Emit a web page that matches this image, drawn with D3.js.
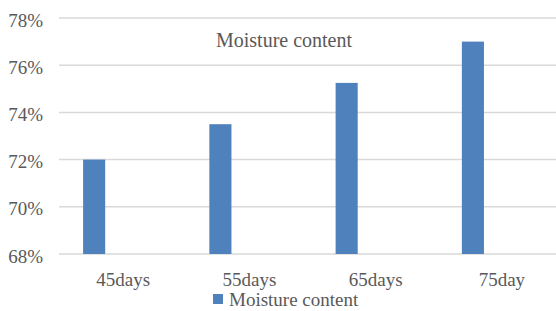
<!DOCTYPE html>
<html>
<head>
<meta charset="utf-8">
<script src="https://d3js.org/d3.v7.min.js"></script>
<style>
    body { margin: 0; background: #fff; }
    svg text { font-family: "Liberation Serif", "Times New Roman", serif; fill: #595959; }
</style>
</head>
<body>
<svg width="556" height="311"></svg>
<script>
    // chart data
    var categories = ["45days", "55days", "65days", "75day"];
    var moisture = [72.0, 73.5, 75.25, 77.0];
    var yTicks = [68, 70, 72, 74, 76, 78];
    var seriesName = "Moisture content";

    var svg = d3.select('svg');

    var x = d3.scaleBand().domain(categories).range([60, 565]).paddingInner(0).paddingOuter(0);
    var y = d3.scaleLinear().domain([68, 78]).range([254, 18]);

    // gridlines
    svg.append('g').selectAll('line').data(yTicks).enter().append('line')
        .attr('x1', 59).attr('x2', 556)
        .attr('y1', function (d) { return y(d); })
        .attr('y2', function (d) { return y(d); })
        .attr('stroke', '#d9d9d9')
        .attr('stroke-width', 1.5);

    // y labels
    svg.append('g').selectAll('text').data(yTicks).enter().append('text')
        .attr('x', 43)
        .attr('y', function (d) { return y(d) + 8.5; })
        .attr('text-anchor', 'end')
        .style('font-size', '19px')
        .text(function (d) { return d + '%'; });

    // bars
    var bw = x.bandwidth();
    svg.append('g').selectAll('rect').data(moisture).enter().append('rect')
        .attr('x', function (d, i) { return x(categories[i]) + bw * 0.183; })
        .attr('width', bw * 0.175)
        .attr('y', function (d) { return y(d); })
        .attr('height', function (d) { return y(68) - y(d); })
        .attr('fill', '#4f81bd');

    // category labels
    svg.append('g').selectAll('text').data(categories).enter().append('text')
        .attr('x', function (d) { return x(d) + bw / 2; })
        .attr('y', 286)
        .attr('text-anchor', 'middle')
        .style('font-size', '19px')
        .text(function (d) { return d; });

    // title
    svg.append('text')
        .attr('x', 284).attr('y', 47)
        .attr('text-anchor', 'middle')
        .style('font-size', '20px')
        .text(seriesName);

    // legend
    svg.append('rect')
        .attr('x', 213).attr('y', 294)
        .attr('width', 10).attr('height', 10)
        .attr('fill', '#4f81bd');
    svg.append('text')
        .attr('x', 229).attr('y', 306)
        .style('font-size', '19px')
        .text(seriesName);
</script>
</body>
</html>
